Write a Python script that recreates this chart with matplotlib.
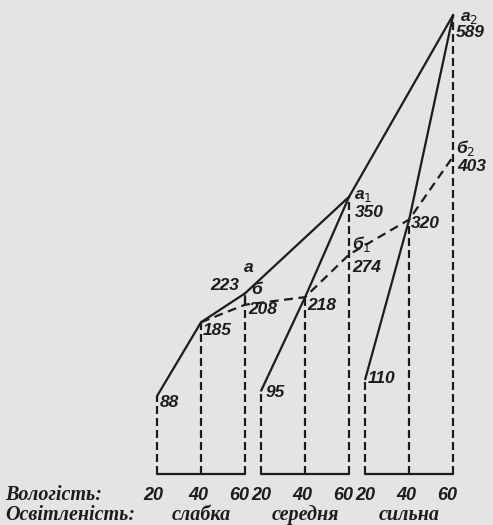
import matplotlib.pyplot as plt

# humidity levels (per illumination group) and the yields
humidity = [20, 40, 60]
light = ["слабка", "середня", "сильна"]
yield_weak = [88, 185, 223]
yield_medium = [95, 218, 350]
yield_strong = [110, 320, 589]
yield_b = [208, 274, 403]          # б, б1, б2 points at humidity 60
a_names = ["а", "а$_1$", "а$_2$"]
b_names = ["б", "б$_1$", "б$_2$"]

groups = [yield_weak, yield_medium, yield_strong]
step = 47.3      # horizontal offset between groups (humidity units)
base = -15       # value level of the bottom line
ink = "#1c1c1c"
bg = "#e4e4e4"

fig = plt.figure(figsize=(4.93, 5.25), dpi=100, facecolor=bg)
ax = fig.add_axes([0, 0, 1, 1])
ax.set_facecolor(bg)
ax.set_xlim(-51.4, 172.7)
ax.set_ylim(-81.6, 608.6)
ax.axis("off")

solid = dict(color=ink, lw=1.6, solid_capstyle="round")
dash = dict(color=ink, lw=1.6, dashes=(3.6, 1.8))

lab = dict(fontfamily=["Liberation Sans", "DejaVu Sans"], fontweight="bold",
           fontstyle="italic", fontsize=12.5, color=ink,
           textcoords="offset pixels", va="center")

xs_all = []
for g, vals in enumerate(groups):
    xs = [h + step * g for h in humidity]
    xs_all.append(xs)
    ax.plot(xs, vals, **solid)
    ax.plot([xs[0], xs[-1]], [base, base], **solid)
    for x, v in zip(xs, vals):
        ax.plot([x, x], [base, v], **dash)

# line through the 60 % points (а, а1, а2)
ax.plot([xs[2] for xs in xs_all], [vals[2] for vals in groups], **solid)

# dashed line б: 40 % point -> б point of each group
bx, by = [], []
for g, vals in enumerate(groups):
    bx += [xs_all[g][1], xs_all[g][2]]
    by += [vals[1], yield_b[g]]
ax.plot(bx, by, color=ink, lw=1.6, dashes=(4, 2.5))
ax.plot([xs_all[0][2]] * 2, [yield_b[0], yield_weak[2] - 4], **solid)

# value labels
offs = [
    [(3, -7, "left"), (2, -8, "left"), (-6, 8, "right")],
    [(4, -2, "left"), (2, -8, "left"), (6, -16, "left")],
    [(3, 1, "left"), (2, -4, "left"), (3, -18, "left")],
]
for g, vals in enumerate(groups):
    for i, v in enumerate(vals):
        dx, dy, ha = offs[g][i]
        ax.annotate(str(v), (xs_all[g][i], v), xytext=(dx, dy), ha=ha, **lab)

a_offs = [(4, 26, "center"), (5, 1, "left"), (7, -3, "left")]
for g, name in enumerate(a_names):
    dx, dy, ha = a_offs[g]
    ax.annotate(name, (xs_all[g][2], groups[g][2]), xytext=(dx, dy), ha=ha, **lab)

b_offs = [(12, 15, "center"), (3, 11, "left"), (3, 8, "left")]
bv_offs = [(3, -5, "left"), (3, -13, "left"), (4, -10, "left")]
for g, name in enumerate(b_names):
    dx, dy, ha = b_offs[g]
    ax.annotate(name, (xs_all[g][2], yield_b[g]), xytext=(dx, dy), ha=ha, **lab)
    dx, dy, ha = bv_offs[g]
    ax.annotate(str(yield_b[g]), (xs_all[g][2], yield_b[g]), xytext=(dx, dy), ha=ha, **lab)

# bottom captions
serif = dict(fontfamily=["Liberation Serif", "DejaVu Serif"], fontweight="bold",
             fontstyle="italic", fontsize=14.5, color=ink, va="baseline")
fig.text(5 / 493, 1 - 500 / 525, "Вологість:", ha="left", **serif)
fig.text(5 / 493, 1 - 520 / 525, "Освітленість:", ha="left", **serif)

num_shift = [-4, -3, -6]
for g, xs in enumerate(xs_all):
    for i, (x, h) in enumerate(zip(xs, humidity)):
        ax.annotate(str(h), (x, base), xytext=(num_shift[i] + (4 if i == 0 and g else 0), -26),
                    ha="center", **{**lab, "fontsize": 13, "va": "baseline"})
    ax.annotate(light[g], (xs[1], base), xytext=(0, -46), ha="center",
                textcoords="offset pixels", **serif)

fig.savefig("out.png", dpi=100, facecolor=bg)
